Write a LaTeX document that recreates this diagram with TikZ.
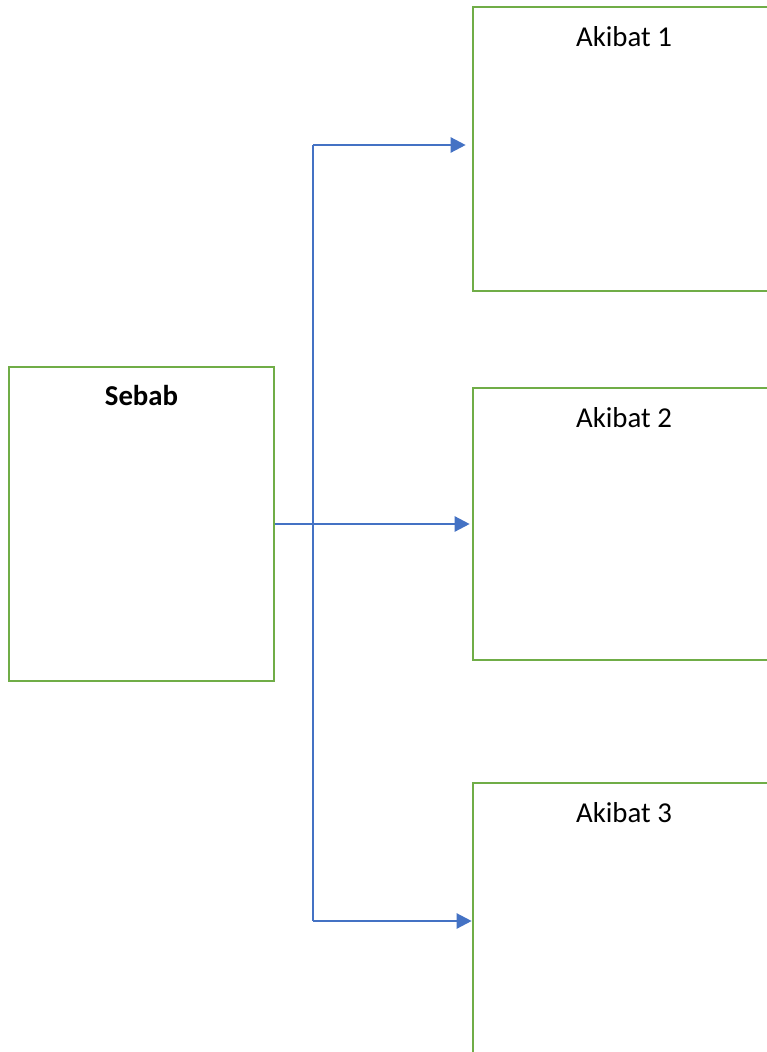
\documentclass[tikz,border=0pt]{standalone}
\usepackage{fontspec}
\setmainfont{Carlito}
\definecolor{sb_green}{RGB}{112, 173, 71}
\definecolor{sb_blue}{RGB}{68, 114, 196}
\usetikzlibrary{arrows.meta, positioning, calc}

\begin{document}
\begin{tikzpicture}[
        x=1pt, y=-1pt,
        box/.style={rectangle, draw=sb_green, line width=2.6pt, inner sep=0pt,
                    minimum width=302pt, minimum height=276pt},
        lbl/.style={anchor=base, font=\fontsize{28.8}{34}\selectfont},
        arr/.style={-{Triangle[length=15pt, width=15pt]}, line width=2.4pt, color=sb_blue},
        stem/.style={line width=1.4pt, color=sb_blue},
      ]
        \clip (0,0) rectangle (767,1052);
        \useasboundingbox (0,0) rectangle (767,1052);

        \node[box, minimum width=265pt, minimum height=314pt] (sebab) at (141.5, 524) {};
        \node[box, minimum height=284pt] (akibat1) at (624, 149) {};
        \node[box, minimum height=272pt] (akibat2) at (624, 524) {};
        \node[box] (akibat3) at (624, 921) {};

        \node[lbl, font=\fontsize{28.8}{34}\selectfont\bfseries] (tsebab) at ([yshift=-40]sebab.north) {Sebab};
        \node[lbl] (takibat1) at ([yshift=-41]akibat1.north) {Akibat 1};
        \node[lbl] (takibat2) at ([yshift=-41]akibat2.north) {Akibat 2};
        \node[lbl] (takibat3) at ([yshift=-41]akibat3.north) {Akibat 3};

        \coordinate (splittop) at (313, 145);
        \coordinate (splitbot) at (313, 921);

        \draw[stem] (splittop) -- (splitbot);
        \draw[arr, shorten >=6pt] (splittop) -- (splittop -| akibat1.west);
        \draw[arr, shorten >=2pt] (sebab.east) -- (sebab.east -| akibat2.west);
        \draw[arr] (splitbot) -- (splitbot -| akibat3.west);
      \end{tikzpicture}
\end{document}
